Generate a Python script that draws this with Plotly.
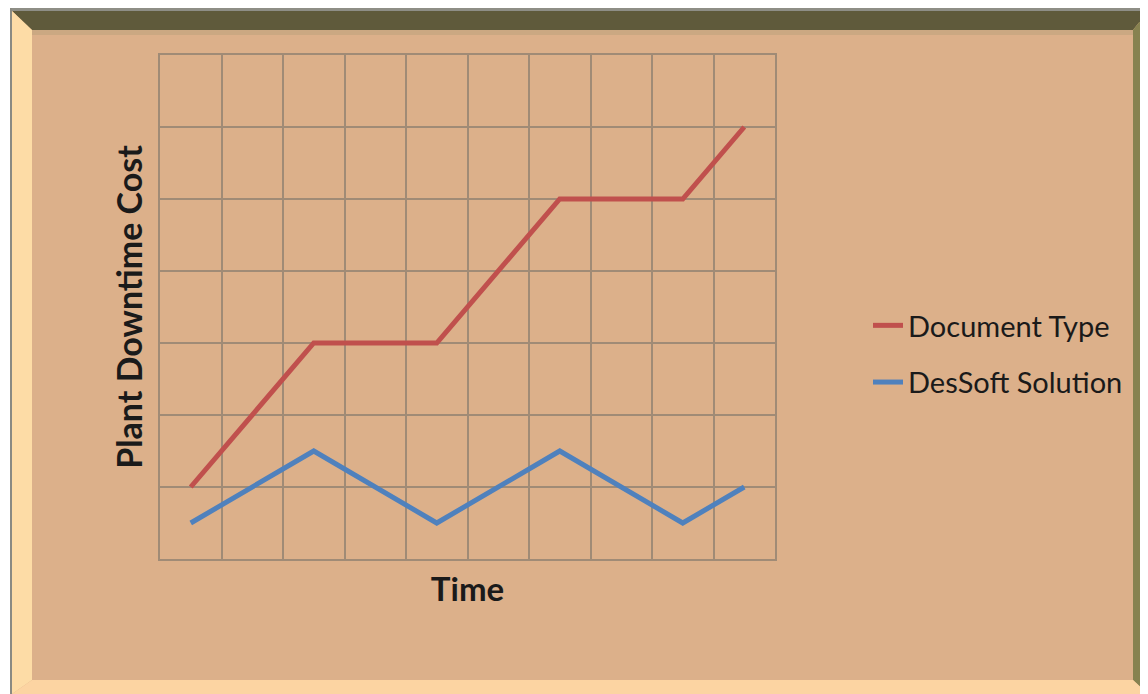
import plotly.graph_objects as go

# ---- data ----
time_slots = [1, 2, 3, 4, 5, 6, 7, 8, 9, 10]
document_type = [1, None, 3, None, 3, None, 5, None, 5, 6]
dessoft_solution = [0.5, None, 1.5, None, 0.5, None, 1.5, None, 0.5, 1]
series_names = ["Document Type", "DesSoft Solution"]

OFF = 8  # page body margin
PW, PH = 1148, 694
W, H = PW - OFF, PH - OFF
L, R, T, B = 160 - OFF, 775 - OFF, 55 - OFF, 559 - OFF  # plot area in figure pixels

def px(x):
    return (x - OFF - L) / (R - L)

def py(y):
    return (B - (y - OFF)) / (B - T)

def poly(points):
    return "M " + " L ".join(f"{px(x)},{py(y)}" for x, y in points) + " Z"

BG = "#DCB08A"
GRID = "#A08B76"

fig = go.Figure()
fig.add_trace(go.Scatter(x=time_slots, y=document_type, name=series_names[0],
                         mode="lines", connectgaps=True, legendgroup="a",
                         line=dict(color="#C0504D", width=5)))
fig.add_trace(go.Scatter(x=time_slots, y=dessoft_solution, name=series_names[1],
                         mode="lines", connectgaps=True, legendgroup="b",
                         line=dict(color="#4F81BD", width=5)))

def rect_shape(points, color, opacity=1.0):
    return dict(type="path", path=poly(points), xref="paper", yref="paper",
                fillcolor=color, opacity=opacity, line=dict(width=0), layer="below")

shapes = [
    # white outer margin (page coords)
    rect_shape([(8, 8), (PW, 8), (PW, 9), (8, 9)], "white"),
    rect_shape([(8, 8), (10, 8), (10, PH), (8, PH)], "white"),
    # gray outer lines
    rect_shape([(10, 8), (PW, 8), (PW, 11), (10, 11)], "#8E8E86"),
    rect_shape([(10, 8), (12, 8), (12, PH), (10, PH)], "#8A8A82"),
    # bevels
    rect_shape([(12, 11), (PW, 11), (1133, 30), (32, 30)], "#5F5A3B"),
    rect_shape([(12, 11), (32, 30), (32, 680), (12, PH)], "#FDDCA6"),
    rect_shape([(PW, 11), (PW, PH), (1133, 680), (1133, 30)], "#878250"),
    rect_shape([(12, PH), (32, 680), (1133, 680), (PW, PH)], "#FCD4A2"),
    # soft inner shading
    rect_shape([(32, 30), (1133, 30), (1133, 35), (32, 35)], "#B9A07A", 0.5),
]

fig.update_layout(
    width=W, height=H,
    margin=dict(l=L, r=W - R, t=T, b=H - B, pad=0),
    paper_bgcolor=BG, plot_bgcolor=BG,
    font=dict(family="Lato, Carlito, Noto Sans, sans-serif", color="#1A1A1A"),
    shapes=shapes,
    showlegend=True,
    legend=dict(x=px(868), y=py(354), xanchor="left", yanchor="middle",
                bgcolor="rgba(0,0,0,0)", font=dict(size=29, color="#1A1A1A"),
                traceorder="grouped", tracegroupgap=16, itemwidth=30),
    xaxis=dict(range=[0.5, 10.5], tick0=0.5, dtick=1, showticklabels=False,
               ticks="", showgrid=True, gridcolor=GRID, gridwidth=1.5,
               zeroline=False, showline=True, linecolor=GRID, linewidth=1.5, mirror=True,
               title=dict(text="<b>Time</b>", font=dict(size=33, color="#1A1A1A"), standoff=18)),
    yaxis=dict(range=[0, 7], dtick=1, showticklabels=False, ticks="",
               showgrid=True, gridcolor=GRID, gridwidth=1.5,
               zeroline=False, showline=True, linecolor=GRID, linewidth=1.5, mirror=True,
               title=dict(text="<b>Plant Downtime Cost</b>", font=dict(size=34, color="#1A1A1A"), standoff=5)),
)

fig.write_html("out.html")
